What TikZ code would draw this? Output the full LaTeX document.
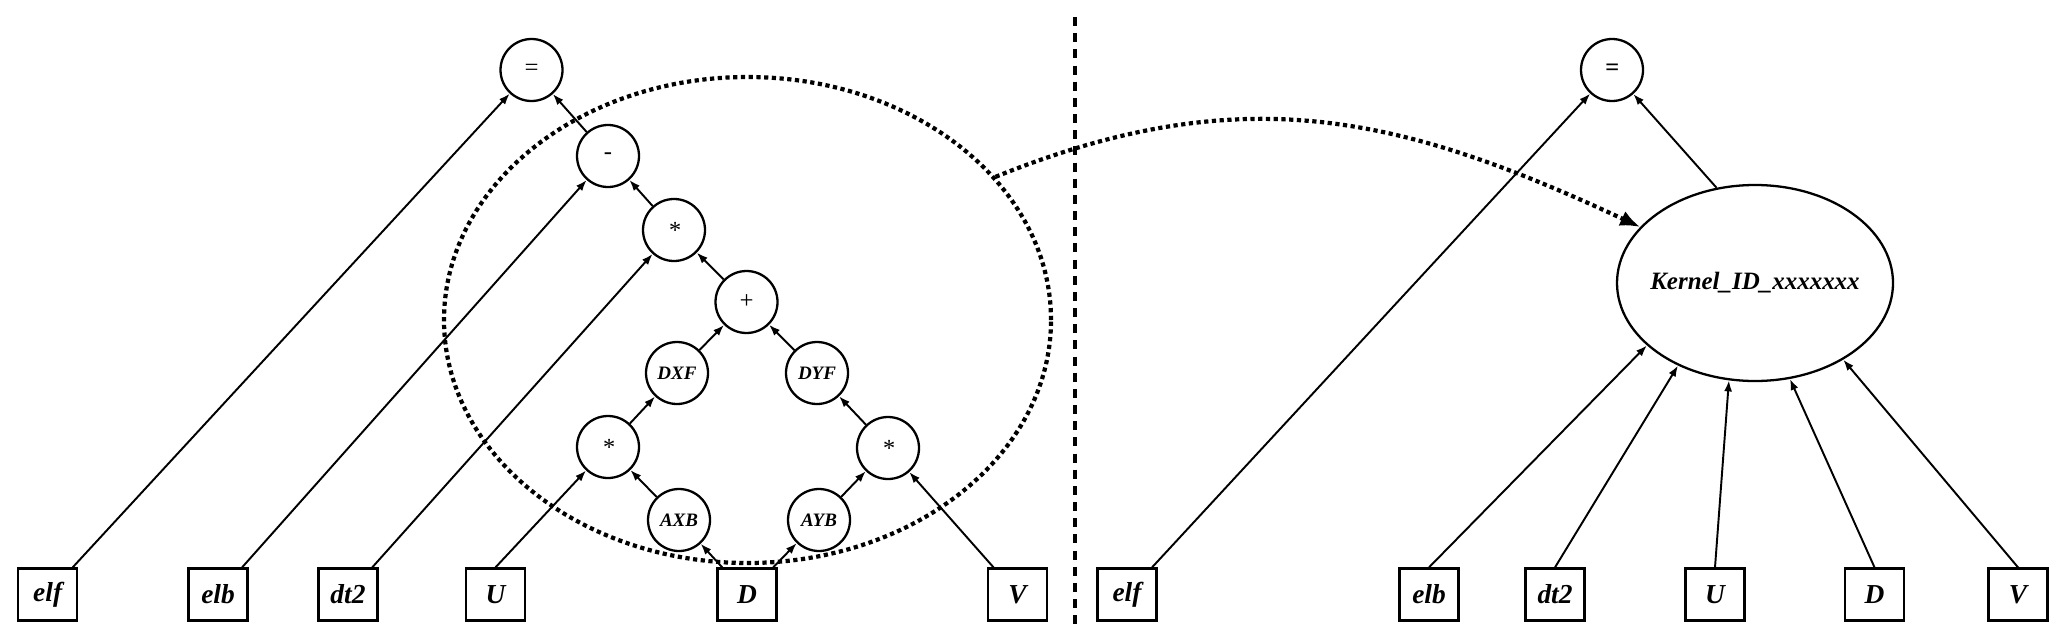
\documentclass[tikz,border=0pt]{standalone}
\usepackage{fontspec}
\setmainfont{Liberation Serif}
\usetikzlibrary{shapes.geometric, arrows.meta, positioning}

\begin{document}
\begin{tikzpicture}[
    % Input variable style
    varbox/.style={
        rectangle,
        draw=black,
        line width=0.65pt,
        minimum width=0.59cm,
        minimum height=0.52cm,
        inner sep=0pt,
        font=\fontsize{7.8}{8.5}\selectfont\bfseries\itshape
    },
    % Operator style
    opnode/.style={
        circle,
        draw=black,
        line width=0.65pt,
        minimum size=0.62cm,
        inner sep=0pt,
        font=\fontsize{7}{8}\selectfont\itshape
    },
    % Temporary value style
    tmpnode/.style={
        opnode,
        font=\fontsize{5.4}{6}\selectfont\bfseries\itshape
    },
    % Fused kernel style
    kernelnode/.style={
        ellipse,
        draw=black,
        line width=0.65pt,
        minimum width=2.76cm,
        minimum height=1.96cm,
        inner xsep=-2mm,
        inner ysep=0pt,
        font=\fontsize{7.1}{8}\selectfont\bfseries\itshape
    },
    % Arrow style
    flow/.style={
        -{Latex[length=1.1mm, width=0.8mm]},
        line width=0.55pt
    },
    % Dotted style
    fusedots/.style={
        line width=1.2pt,
        dash pattern=on 1.2pt off 1pt
    },
    % Separator style
    sepline/.style={
        line width=1.15pt,
        dash pattern=on 2.6pt off 2pt
    }
]
\useasboundingbox (0,0) rectangle (20.67,6.40);

% === Left: expression tree ===
\node[opnode] (eqL) at (5.315, 5.70) {=};
\node[opnode] (minus) at (6.08, 4.84) {-};
\node[opnode] (mulA) at (6.74, 4.10) {*};
\node[opnode] (plus) at (7.465, 3.38) {+};
\node[tmpnode] (dxf) at (6.77, 2.67) {DXF};
\node[tmpnode] (dyf) at (8.17, 2.67) {DYF};
\node[opnode] (mulB) at (6.08, 1.93) {*};
\node[opnode] (mulC) at (8.88, 1.92) {*};
\node[tmpnode] (axb) at (6.79, 1.20) {AXB};
\node[tmpnode] (ayb) at (8.19, 1.20) {AYB};

% === Left: inputs ===
\node[varbox] (elfL) at (0.477, 0.455) {elf};
\node[varbox] (elbL) at (2.18, 0.455) {elb};
\node[varbox] (dttL) at (3.48, 0.455) {dt2};
\node[varbox] (uL) at (4.955, 0.455) {U};
\node[varbox] (dL) at (7.47, 0.455) {D};
\node[varbox] (vL) at (10.175, 0.455) {V};

% === Left: arrows ===
\draw[flow] (elfL) -- (eqL);
\draw[flow] (elbL) -- (minus);
\draw[flow] (dttL) -- (mulA);
\draw[flow] (uL.north) -- (mulB);
\draw[flow] (dL) -- (axb);
\draw[flow] (dL) -- (ayb);
\draw[flow] (vL) -- (mulC);
\draw[flow] (axb) -- (mulB);
\draw[flow] (ayb) -- (mulC);
\draw[flow] (mulB) -- (dxf);
\draw[flow] (mulC) -- (dyf);
\draw[flow] (dxf) -- (plus);
\draw[flow] (dyf) -- (plus);
\draw[flow] (plus) -- (mulA);
\draw[flow] (mulA) -- (minus);
\draw[flow] (minus) -- (eqL);

% === Fused region ===
\node[ellipse, draw=black, fusedots, minimum width=6.07cm, minimum height=4.86cm, inner sep=0pt] (fuse) at (7.475, 3.20) {};

% === Separator ===
\coordinate (sepTop) at (10.75, 6.23);
\coordinate (sepBot) at (10.75, 0.10);
\draw[sepline] (sepTop) -- (sepBot);

% === Right: kernel ===
\node[opnode, font=\fontsize{7}{8}\selectfont\bfseries\itshape] (eqR) at (16.12, 5.70) {=};
\node[kernelnode] (kernel) at (17.55, 3.57) {Kernel\_ID\_xxxxxxx};

% === Right: inputs ===
\node[varbox] (elfR) at (11.27, 0.455) {elf};
\node[varbox] (elbR) at (14.29, 0.455) {elb};
\node[varbox] (dttR) at (15.55, 0.455) {dt2};
\node[varbox] (uR) at (17.15, 0.455) {U};
\node[varbox] (dR) at (18.745, 0.455) {D};
\node[varbox] (vR) at (20.18, 0.455) {V};

% === Right: arrows ===
\draw[flow] (elfR) -- (eqR);
\draw[flow] (kernel.112) -- (eqR);
\draw[flow] (elbR.north) -- (kernel.210);
\draw[flow] (dttR.north) -- (kernel.227);
\draw[flow] (uR.north) -- (kernel.255);
\draw[flow] (dR.north) -- (kernel.290);
\draw[flow] (vR.north) -- (kernel.319);

% === Fusion arrow ===
\draw[fusedots, -{Latex[length=2mm, width=1.6mm]}] (fuse.30) to[out=22, in=155, looseness=1.05] (kernel.154);

\end{tikzpicture}
\end{document}
